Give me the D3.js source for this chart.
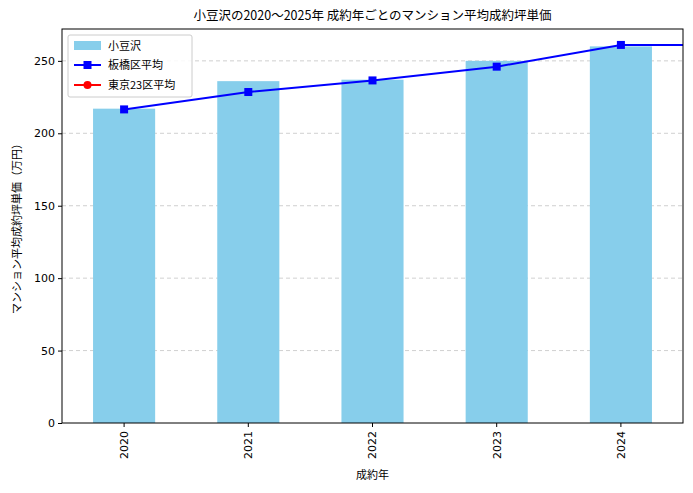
<!DOCTYPE html>
<html><head><meta charset="utf-8">
<script src="https://cdn.jsdelivr.net/npm/d3@7"></script>
<style>body{margin:0;background:#fff;font-family:"Noto Sans CJK JP",sans-serif;}</style>
</head><body><div id="chart"></div>
<script>
const years = ["2020","2021","2022","2023","2024"];
const barValues = [217, 236, 237, 250, 260];
const lineYears = ["2020","2021","2022","2023","2024","2025"];
const itabashiAvg = [216.5, 228.5, 236.5, 246, 261, 261];
const yTicks = [0, 50, 100, 150, 200, 250];

const W = 693, H = 493;
const margin = {top: 29, right: 10, bottom: 70, left: 62};
const iw = W - margin.left - margin.right, ih = H - margin.top - margin.bottom;

let svg = d3.select("#chart").append("svg").attr("width", W).attr("height", H);
let g = svg.append("g").attr("transform", `translate(${margin.left},${margin.top})`);

let x = d3.scaleBand().domain(years).range([0, iw]).paddingInner(0.5).paddingOuter(0.25);
let y = d3.scaleLinear().domain([0, 272]).range([ih, 0]);
const xc = (d, i) => x(years[0]) + x.bandwidth() / 2 + i * x.step();

svg.append("text").attr("x", margin.left + iw / 2).attr("y", 20).attr("text-anchor", "middle")
  .style("font-size", "12.5px").text("小豆沢の2020〜2025年 成約年ごとのマンション平均成約坪単価");

// grid
g.selectAll(".grid").data(yTicks.slice(1)).enter().append("line")
  .attr("x1", 0).attr("x2", iw).attr("y1", d => y(d)).attr("y2", d => y(d))
  .attr("stroke", "#c4c4c4").attr("stroke-dasharray", "4,3").attr("stroke-width", 0.8);

g.selectAll("rect.bar").data(barValues).enter().append("rect")
  .attr("x", (d, i) => x(years[i])).attr("y", d => y(d))
  .attr("width", x.bandwidth()).attr("height", d => ih - y(d)).attr("fill", "#87ceeb");

svg.append("clipPath").attr("id", "clip").append("rect").attr("width", iw).attr("height", ih);
let lg = g.append("g").attr("clip-path", "url(#clip)");
let line = d3.line().x((d, i) => xc(d, i)).y(d => y(d));
lg.append("path").datum(itabashiAvg).attr("d", line).attr("fill", "none").attr("stroke", "blue").attr("stroke-width", 2);
lg.selectAll("rect.m").data(itabashiAvg).enter().append("rect")
  .attr("x", (d, i) => xc(d, i) - 4).attr("y", d => y(d) - 4).attr("width", 8).attr("height", 8).attr("fill", "blue");

let ya = g.append("g").call(d3.axisLeft(y).tickValues(yTicks).tickSize(4));
let xa = g.append("g").attr("transform", `translate(0,${ih})`).call(d3.axisBottom(x).tickSize(4));
xa.selectAll("text").attr("transform", "rotate(-90)").attr("text-anchor", "end").attr("x", -8).attr("y", 0).attr("dy", "0.35em");
[ya, xa].forEach(a => { a.selectAll("text").style("font-size", "11px").style("font-family", "DejaVu Sans").attr("fill", "#000"); a.select(".domain").remove(); });
g.append("rect").attr("width", iw).attr("height", ih).attr("fill", "none").attr("stroke", "#000").attr("stroke-width", 1);

svg.append("text").attr("x", margin.left + iw / 2).attr("y", 479).attr("text-anchor", "middle").style("font-size", "11px").text("成約年");
svg.append("text").attr("transform", `translate(21,${margin.top + ih / 2}) rotate(-90)`).attr("text-anchor", "middle").style("font-size", "11px").text("マンション平均成約坪単価（万円）");

// legend
let leg = svg.append("g").attr("transform", "translate(68,35)");
leg.append("rect").attr("width", 124).attr("height", 62).attr("fill", "#fff").attr("fill-opacity", 0.85).attr("stroke", "#ccc").attr("rx", 2);
leg.append("rect").attr("x", 6).attr("y", 6).attr("width", 27).attr("height", 9).attr("fill", "#87ceeb");
leg.append("text").attr("x", 40).attr("y", 14.5).style("font-size", "11px").text("小豆沢");
[["blue", "板橋区平均", 30, "sq"], ["red", "東京23区平均", 50, "c"]].forEach(([c, t, yy, m]) => {
  leg.append("line").attr("x1", 6).attr("x2", 33).attr("y1", yy).attr("y2", yy).attr("stroke", c).attr("stroke-width", 2);
  if (m === "sq") leg.append("rect").attr("x", 15.5).attr("y", yy - 4).attr("width", 8).attr("height", 8).attr("fill", c);
  else leg.append("circle").attr("cx", 19.5).attr("cy", yy).attr("r", 4).attr("fill", c);
  leg.append("text").attr("x", 40).attr("y", yy + 4).style("font-size", "11px").text(t);
});
</script></body></html>
